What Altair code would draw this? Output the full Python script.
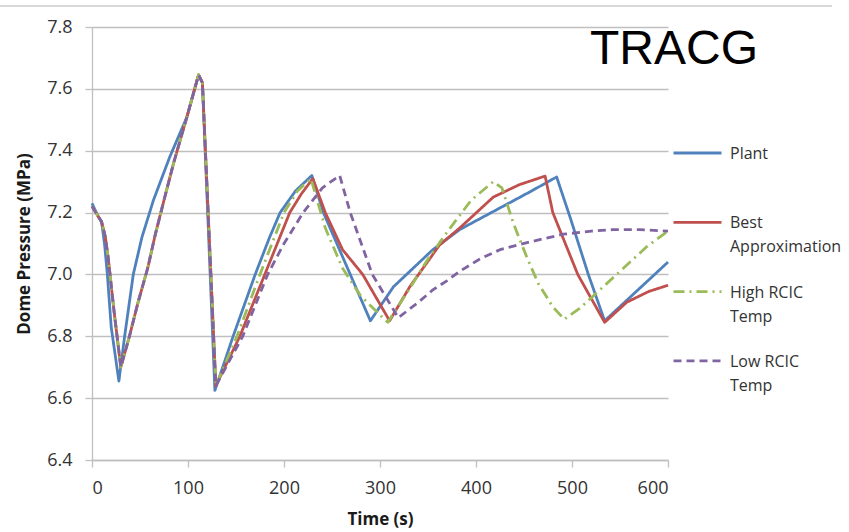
import altair as alt
import pandas as pd

# ---------------- data ----------------
series_names = ["Plant", "Best Approximation", "High RCIC Temp", "Low RCIC Temp"]
series_colors = ["#4F81BD", "#C0504D", "#9BBB59", "#8064A2"]
series_dashes = [[1, 0], [1, 0], [11, 5, 2, 5], [8, 5]]

plant_t = [0, 6, 10, 13, 16, 20, 28, 34, 43, 52, 64, 81, 99, 111, 115, 128,
           147, 170, 185, 196, 212, 229, 241, 269, 290, 314, 355, 383, 425,
           455, 484, 498, 517, 534, 600]
plant_p = [7.23, 7.19, 7.17, 7.10, 7.00, 6.83, 6.655, 6.80, 7.00, 7.12, 7.24,
           7.38, 7.51, 7.645, 7.62, 6.625, 6.80, 7.00, 7.12, 7.20, 7.27, 7.32,
           7.20, 7.00, 6.85, 6.96, 7.08, 7.145, 7.215, 7.265, 7.315, 7.185,
           7.00, 6.85, 7.04]

best_t = [0, 6, 10, 14, 17, 23, 30, 39, 48, 58, 66, 75, 85, 98, 111, 115, 129,
          154, 180, 206, 218, 230, 243, 261, 282, 310, 331, 362, 383, 418, 445,
          472, 480, 506, 534, 557, 580, 600]
best_p = [7.22, 7.19, 7.17, 7.12, 7.05, 6.88, 6.70, 6.80, 6.91, 7.02, 7.13,
          7.24, 7.36, 7.50, 7.645, 7.62, 6.64, 6.80, 7.00, 7.20, 7.26, 7.31,
          7.20, 7.08, 7.00, 6.85, 6.96, 7.095, 7.15, 7.25, 7.29, 7.318, 7.20,
          7.00, 6.845, 6.91, 6.945, 6.965]

high_t = [0, 6, 10, 14, 17, 23, 30, 39, 48, 58, 66, 75, 85, 98, 111, 115, 129,
          151, 175, 200, 214, 228, 243, 261, 280, 308, 330, 350, 373, 395, 418,
          427, 439, 453, 465, 480, 492, 508, 543, 578, 600]
high_p = [7.22, 7.19, 7.17, 7.12, 7.05, 6.88, 6.70, 6.80, 6.91, 7.02, 7.13,
          7.24, 7.36, 7.50, 7.645, 7.62, 6.64, 6.80, 7.00, 7.20, 7.27, 7.31,
          7.15, 7.02, 6.93, 6.845, 6.95, 7.05, 7.15, 7.24, 7.30, 7.28, 7.165,
          7.055, 6.97, 6.895, 6.855, 6.89, 6.99, 7.09, 7.14]

low_t = [0, 6, 10, 14, 17, 23, 30, 39, 48, 58, 66, 75, 85, 98, 111, 115, 129,
         157, 183, 200, 220, 240, 258, 269, 292, 319, 340, 355, 370, 383, 404,
         425, 456, 491, 520, 543, 570, 600]
low_p = [7.22, 7.19, 7.17, 7.12, 7.05, 6.88, 6.70, 6.80, 6.91, 7.02, 7.13,
         7.24, 7.36, 7.50, 7.645, 7.62, 6.64, 6.80, 7.00, 7.10, 7.20, 7.28,
         7.32, 7.20, 7.00, 6.86, 6.91, 6.95, 6.98, 7.01, 7.05, 7.08, 7.105,
         7.13, 7.14, 7.145, 7.145, 7.14]

x_ticks = [0, 100, 200, 300, 400, 500, 600]
y_ticks = [6.4, 6.6, 6.8, 7.0, 7.2, 7.4, 7.6, 7.8]
legend_lines = {
    "Plant": ["Plant"],
    "Best Approximation": ["Best", "Approximation"],
    "High RCIC Temp": ["High RCIC", "Temp"],
    "Low RCIC Temp": ["Low RCIC", "Temp"],
}
corner_label = ["TRACG"]

# ---------------- build table ----------------
rows = []
for name, ts, ps in zip(series_names,
                        [plant_t, best_t, high_t, low_t],
                        [plant_p, best_p, high_p, low_p]):
    for i, (t, p) in enumerate(zip(ts, ps)):
        rows.append({"series": name, "time": t, "pressure": p, "idx": i})
df = pd.DataFrame(rows)

label_expr = ""
for k, v in legend_lines.items():
    arr = "[" + ",".join("'" + s + "'" for s in v) + "]"
    label_expr += f"datum.label == '{k}' ? {arr} : "
label_expr += "datum.label"

legend = alt.Legend(
    title=None,
    orient="none",
    legendX=580,
    legendY=102,
    padding=0,
    symbolType="M-1,-0.25L1,-0.25",
    symbolSize=2304,
    symbolStrokeWidth=2.8,
    clipHeight=60,
    rowPadding=9.3,
    labelFont="Open Sans",
    labelFontSize=16,
    labelColor="#333333",
    labelBaseline="alphabetic",
    labelOffset=7,
    labelLimit=200,
    labelExpr=label_expr,
)

lines = alt.Chart(df).mark_line(strokeWidth=2.8, strokeJoin="round").encode(
    x=alt.X("time:Q",
            scale=alt.Scale(domain=[0, 600], nice=False),
            axis=alt.Axis(values=x_ticks, title="Time (s)", grid=False,
                          format="d")),
    y=alt.Y("pressure:Q",
            scale=alt.Scale(domain=[6.4, 7.8], nice=False, zero=False),
            axis=alt.Axis(values=y_ticks, format=".1f",
                          title="Dome Pressure (MPa)", grid=True)),
    color=alt.Color("series:N",
                    scale=alt.Scale(domain=series_names, range=series_colors),
                    sort=series_names, legend=legend),
    strokeDash=alt.StrokeDash("series:N",
                              scale=alt.Scale(domain=series_names,
                                              range=series_dashes),
                              sort=series_names, legend=legend),
    order=alt.Order("idx:Q"),
)

corner = alt.Chart(pd.DataFrame({"label": corner_label})).mark_text(
    font="Liberation Sans", fontSize=48, color="#000000",
    align="left", baseline="alphabetic"
).encode(x=alt.value(498), y=alt.value(37), text="label:N")

top_line = alt.Chart(pd.DataFrame({"k": [0]})).mark_rule(
    color="#D9D9D9", strokeWidth=2
).encode(x=alt.value(-92), x2=alt.value(740), y=alt.value(-21))

chart = alt.layer(top_line, lines, corner).properties(
    width=576, height=433,
    padding={"left": 92, "top": 27, "right": 181, "bottom": 72},
    autosize=alt.AutoSizeParams(type="none"),
    background="#FFFFFF",
).configure(
    style={"guide-label": alt.MarkConfig(lineHeight=24)}
).configure_view(stroke=None).configure_axis(
    gridColor="#BFBFBF", gridWidth=1.3,
    domainColor="#BFBFBF", domainWidth=1.3,
    tickColor="#BFBFBF", tickWidth=1.3, tickSize=7,
    labelFont="Open Sans", labelFontSize=18, labelColor="#333333",
    titleFont="Open Sans", titleFontSize=17, titleFontWeight="bold",
    titleColor="#1A1A1A",
).configure_axisY(
    labelPadding=13, titlePadding=13,
).configure_axisX(
    labelPadding=12, titlePadding=14,
)

chart.save("out.html", embed_options={"renderer": "svg", "actions": False})
